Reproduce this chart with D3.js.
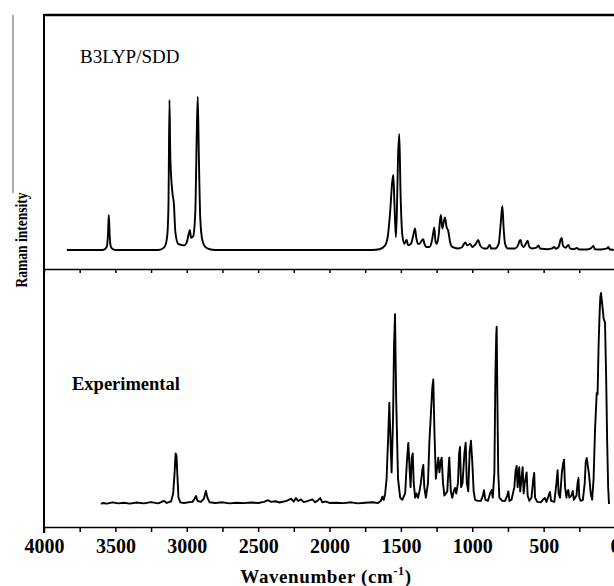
<!DOCTYPE html>
<html>
<head>
<meta charset="utf-8">
<script src="https://cdn.jsdelivr.net/npm/d3@7/dist/d3.min.js"></script>
<style>
  body { margin: 0; background: #fff; }
  svg { display: block; }
  text { font-family: "Liberation Serif", "Times New Roman", serif; fill: #000; }
</style>
</head>
<body>
<svg id="chart" width="614" height="586"></svg>
<script>
// spectra: [wavenumber cm-1, relative intensity]
const b3lypSpectrum = [
  [3840,0],[3590,0],[3570,0.8],[3558,3],[3552,10],[3546,22.8],[3540,10],[3534,3],[3522,0.8],[3500,0],
  [3200,0],[3170,0.8],[3150,3],[3136,10],[3128,30],[3121,97.8],[3115,60],[3100,37],[3090,30],
  [3080,12],[3060,4],[3020,3],[3000,5],[2985,11],[2978,13],[2970,8],[2955,9],
  [2940,25],[2930,75],[2923,100],[2915,60],[2905,20],[2890,6],[2870,2],[2840,0.5],
  [2800,0],[1700,0],[1650,0.5],[1610,3],[1590,10],[1575,25],[1560,45],[1553,49],
  [1545,30],[1535,8.3],[1528,25],[1520,60],[1511,75.7],[1503,40],[1490,10],[1475,4],
  [1465,6],[1459,6.5],[1450,3],[1430,4],[1412,10],[1401,14],[1392,8],[1380,4],
  [1370,4],[1355,6],[1343,7],[1335,4],[1320,2],[1300,2],[1285,5],[1272,12],
  [1266,14.7],[1258,6],[1248,4],[1235,10],[1225,20],[1219,22.8],[1210,14],[1200,18],
  [1191,21.3],[1180,15],[1168,12.4],[1155,5],[1140,2],[1100,1],[1070,2],[1058,4],
  [1049,5],[1035,3],[1015,4],[1000,2],[975,4],[958,6.5],[945,3],[920,1],
  [895,1],[882,3],[876,3.3],[868,1],[840,1],[815,4],[800,18],[789,28.7],
  [780,14],[770,4],[750,1],[700,1],[680,3],[668,6],[661,6.5],[652,3],
  [640,2],[625,4],[612,6],[600,2],[580,1],[550,1.5],[537,3],[525,1],
  [470,0.5],[440,1],[427,2],[415,0.8],[395,2],[380,7],[373,7.8],[365,3],
  [345,1.5],[327,3.3],[315,1],[290,0.5],[268,1.3],[250,0.3],[200,0.3],[170,1],
  [152,2.6],[140,0.5],[100,0.3],[55,1],[47,2],[38,0.5],[0,0]
];

const experimentalSpectrum = [
  [3600,0],[3590,0.5],[3560,0.2],[3520,0.8],[3480,0.3],[3440,0.6],[3400,0.2],[3350,0.7],
  [3300,0.3],[3250,0.9],[3200,0.3],[3160,1.5],[3140,0.5],[3110,1.2],[3095,5],[3085,15],
  [3078,24],[3072,23],[3066,14],[3058,3],[3045,0.8],[3020,0.5],[2990,0.8],[2960,1],
  [2945,2.5],[2935,3.8],[2925,1.5],[2900,1],[2880,2.5],[2866,6.2],[2855,3],[2840,0.8],
  [2800,0.5],[2750,0.8],[2700,0.3],[2650,0.6],[2600,0.4],[2550,0.7],[2500,0.5],[2460,1],
  [2430,1.8],[2410,1],[2380,1.3],[2350,0.7],[2300,1.5],[2270,2.5],[2250,1.2],[2235,2.8],
  [2220,1.4],[2200,2.2],[2180,0.9],[2150,1.5],[2120,2.2],[2100,0.8],[2085,1.5],[2065,2.8],
  [2050,0.8],[2030,1.2],[2000,0.5],[1950,0.6],[1900,0.4],[1850,0.8],[1800,0.3],[1750,0.6],
  [1700,0.8],[1660,0.5],[1640,1.5],[1630,3.5],[1620,2],[1610,5],[1600,12],[1590,30],
  [1581,48],[1575,35],[1565,15],[1555,40],[1548,75],[1541,90],[1533,50],[1520,12],
  [1505,3],[1490,2],[1470,5],[1458,20],[1448,29],[1440,18],[1432,8],[1424,22],
  [1417,24],[1410,10],[1400,3],[1390,5],[1380,3],[1370,6],[1360,10],[1350,16],
  [1343,18.5],[1336,8],[1325,3],[1310,10],[1300,30],[1291,41],[1280,55],[1273,59],
  [1265,35],[1255,12],[1245,18],[1238,22],[1230,15],[1222,20],[1214,22],[1205,10],
  [1195,4],[1175,6],[1165,18],[1161,22],[1150,6],[1140,3],[1130,6],[1121,7.6],
  [1112,5],[1100,10],[1092,24],[1086,27],[1078,8],[1068,10],[1055,24],[1046,29],
  [1038,10],[1028,6],[1018,25],[1009,30],[1000,20],[990,6],[980,2],[960,1.5],
  [940,1.5],[925,4],[918,6.5],[908,2],[890,1.5],[875,5],[864,6.6],[856,3],
  [845,15],[838,60],[832,80],[829,84],[824,50],[818,15],[810,3],[790,1.5],
  [770,1.5],[755,4],[747,6],[740,1.5],[725,2],[705,8],[696,16],[689,18],
  [682,8],[676,14],[671,17.5],[664,6],[655,12],[647,17.5],[640,5],[632,10],
  [619,15],[612,4],[600,1.5],[585,3],[572,12],[566,14.7],[560,3],[545,1],
  [520,0.8],[505,2],[491,2.8],[480,1],[470,3],[456,5.7],[448,1.5],[425,1],
  [410,10],[402,16],[395,5],[385,3],[372,15],[364,19],[357,21],[350,8],
  [340,3],[334,6],[327,6.6],[320,3],[305,4],[296,6.2],[288,2],[270,4],
  [262,10],[256,12.3],[250,3],[240,1.5],[225,2],[212,10],[205,20],[198,21.8],
  [190,18],[182,14],[170,5],[160,2],[150,12],[140,35],[134,44],[128,52.6],
  [122,52],[115,75],[108,90],[103,98],[98,100],[90,95],[80,88],[70,86],
  [62,60],[55,30],[48,8],[42,0]
];

const xTicks = d3.range(0, 4001, 250);
const panelLabels = ["B3LYP/SDD", "Experimental"];

// layout
const L = 44, R = 615, T = 15, MID = 269, B = 527;
const svg = d3.select("#chart");

const x = d3.scaleLinear().domain([4000, 0]).range([L, R]);
const yTop = d3.scaleLinear().domain([-12.4, 153.3]).range([MID, T]);
const yBot = d3.scaleLinear().domain([-10.9, 111.4]).range([B, MID]);

// spectra
svg.append("path")
  .datum(b3lypSpectrum)
  .attr("fill", "none").attr("stroke", "#000").attr("stroke-width", 1.9)
  .attr("stroke-linejoin", "round")
  .attr("d", d3.line().x(d => x(d[0])).y(d => yTop(d[1])).curve(d3.curveMonotoneX));

svg.append("path")
  .datum(experimentalSpectrum)
  .attr("fill", "none").attr("stroke", "#000").attr("stroke-width", 1.9)
  .attr("stroke-linejoin", "round")
  .attr("d", d3.line().x(d => x(d[0])).y(d => yBot(d[1])));

// divider between panels (ticks pointing down)
const mid = svg.append("g").attr("transform", `translate(0,${MID})`)
  .call(d3.axisBottom(x).tickValues(xTicks).tickSize(4).tickSizeOuter(0).tickFormat(""));
mid.select(".domain").attr("stroke-width", 1.6);
mid.selectAll("line").attr("stroke-width", 1.5);

// bottom axis
const bottom = svg.append("g").attr("transform", `translate(0,${B})`)
  .call(d3.axisBottom(x).tickValues(xTicks).tickSize(5).tickSizeOuter(0).tickPadding(7)
    .tickFormat(d => d % 500 === 0 ? d : ""));
bottom.select(".domain").attr("stroke-width", 1.6);
bottom.selectAll("line").attr("stroke-width", 1.5);
bottom.selectAll("text")
  .style("font-family", '"Liberation Serif", serif')
  .style("font-size", "20px").style("font-weight", "bold");

// frame: top and left
svg.append("line").attr("x1", L).attr("x2", R).attr("y1", T).attr("y2", T)
  .attr("stroke", "#000").attr("stroke-width", 2.5);
svg.append("line").attr("x1", L).attr("x2", L).attr("y1", T - 1).attr("y2", B + 6)
  .attr("stroke", "#000").attr("stroke-width", 2);

// stray scan line at far left
svg.append("line").attr("x1", 13).attr("x2", 13).attr("y1", T).attr("y2", 193)
  .attr("stroke", "#555").attr("stroke-width", 1);

// panel labels
svg.append("text").attr("x", 80).attr("y", 63)
  .style("font-size", "19px").text(panelLabels[0]);
svg.append("text").attr("x", 72).attr("y", 390)
  .style("font-size", "18.5px").style("font-weight", "bold").text(panelLabels[1]);

// axis titles
const xt = svg.append("text").attr("x", 326).attr("y", 583)
  .attr("text-anchor", "middle")
  .style("font-size", "19px").style("font-weight", "bold")
  .style("letter-spacing", "0.6px");
xt.append("tspan").text("Wavenumber (cm");
xt.append("tspan").attr("dy", -8).style("font-size", "12px").text("-1");
xt.append("tspan").attr("dy", 8).text(")");

svg.append("text")
  .attr("transform", "translate(27,240) rotate(-90)")
  .attr("text-anchor", "middle")
  .attr("textLength", 95).attr("lengthAdjust", "spacingAndGlyphs")
  .style("font-size", "17px").style("font-weight", "bold")
  .text("Raman intensity");
</script>
</body>
</html>
